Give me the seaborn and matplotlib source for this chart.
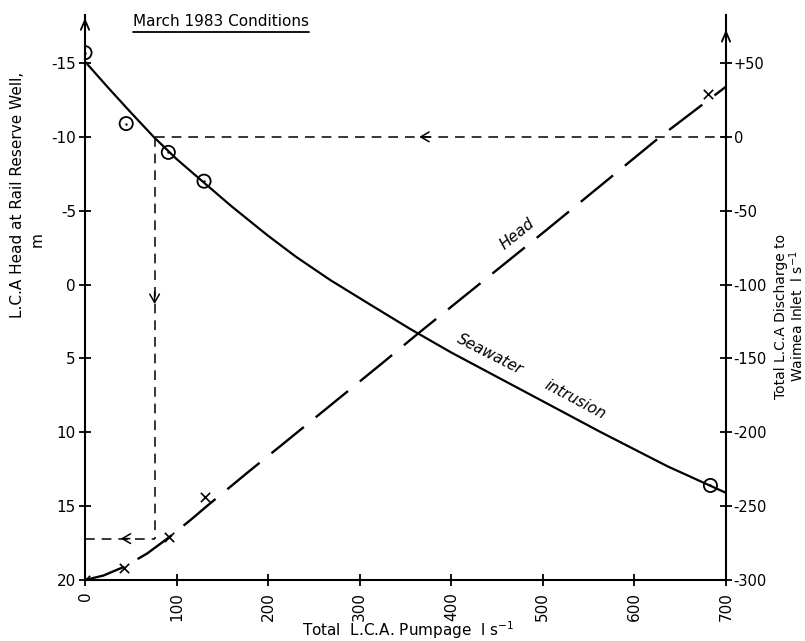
import matplotlib
matplotlib.use("Agg")
import matplotlib.pyplot as plt
import seaborn as sns
import pandas as pd
from matplotlib.lines import Line2D

# Seawater intrusion curve: pumpage (l/s) vs discharge to Waimea Inlet (l/s)
pump_sw = [0, 25, 50, 75, 100, 129, 160, 199, 230, 268, 310, 355, 400, 453,
           500, 562, 636, 700]
disch_sw = [51, 33.5, 16.5, 0, -15, -30.5, -47, -66.5, -81, -97, -113, -130,
            -146, -163.5, -179, -199.5, -223, -241]
# observed discharge points (circles)
pump_obs = [0, 45, 91, 130, 683]
disch_obs = [57, 9, -10.5, -30, -236]

# Head curve: pumpage vs head at Rail Reserve Well (m)
pump_head = [0, 20, 43, 68, 92, 115, 134, 180, 216, 325, 364, 504, 628, 700]
head_m = [20, 19.7, 19.1, 18.2, 17.1, 15.95, 14.95, 12.6, 10.8, 5.3, 3.3,
          -3.7, -10.0, -13.4]
# observed head points (crosses)
pump_hx = [0, 43, 92, 131, 680]
head_hx = [20, 19.2, 17.1, 14.4, -12.9]

# reading off the graph for zero discharge
q_zero = 76
head_zero = 17.2

x_ticks = [0, 100, 200, 300, 400, 500, 600, 700]
left_ticks = [-15, -10, -5, 0, 5, 10, 15, 20]
right_ticks = [50, 0, -50, -100, -150, -200, -250, -300]
right_labels = ["+50", "0", "-50", "-100", "-150", "-200", "-250", "-300"]

sns.set_style("ticks")
plt.rcParams["font.family"] = ["DejaVu Sans"]
plt.rcParams["lines.scale_dashes"] = False
plt.rcParams["axes.unicode_minus"] = False
plt.rcParams["text.color"] = "black"
plt.rcParams["xtick.color"] = "black"
plt.rcParams["ytick.color"] = "black"
plt.rcParams["axes.edgecolor"] = "black"

fig = plt.figure(figsize=(8.05, 6.41), dpi=100)
ax = fig.add_axes([85 / 805, 61 / 641, 641 / 805, 565 / 641])
ax2 = ax.twinx()

sw = pd.DataFrame({"pump": pump_sw, "disch": disch_sw})
obs = pd.DataFrame({"pump": pump_obs, "disch": disch_obs})
hd = pd.DataFrame({"pump": pump_head, "head": head_m})
hx = pd.DataFrame({"pump": pump_hx, "head": head_hx})

# curves
sns.lineplot(data=sw, x="pump", y="disch", ax=ax2, color="black", lw=1.6)
sns.scatterplot(data=obs, x="pump", y="disch", ax=ax2, marker="o", s=90,
                facecolor="none", edgecolor="black", linewidth=1.3, zorder=5)
sns.scatterplot(data=obs, x="pump", y="disch", ax=ax2, marker="o", s=3,
                color="black", linewidth=0, zorder=5)

sns.lineplot(data=hd, x="pump", y="head", ax=ax, color="black", lw=1.7,
             linestyle=(0, (30, 11)))
sns.scatterplot(data=hx, x="pump", y="head", ax=ax, marker="x", s=45,
                color="black", linewidth=1.2, zorder=5)

# construction lines
dash = (0, (7, 5))
ax2.plot([q_zero, 700], [0, 0], color="black", lw=1.1, linestyle=dash)
ax.plot([q_zero, q_zero], [-10, head_zero], color="black", lw=1.1, linestyle=dash)
ax.plot([0, q_zero], [head_zero, head_zero], color="black", lw=1.1, linestyle=dash)
arr = dict(arrowstyle="->,head_length=0.6,head_width=0.35", lw=1.1, color="black")
ax2.annotate("", xy=(362, 0), xytext=(380, 0), arrowprops=arr)
ax.annotate("", xy=(q_zero, 1.5), xytext=(q_zero, 0.3), arrowprops=arr)
ax.annotate("", xy=(36, head_zero), xytext=(52, head_zero), arrowprops=arr)

# axes
ax.set_xlim(0, 700)
ax.set_ylim(20, -18.25)
ax2.set_ylim(-300, 82.5)
ax.set_xticks(x_ticks)
ax.set_xticklabels([str(v) for v in x_ticks], rotation=90)
ax.set_yticks(left_ticks)
ax.set_yticklabels([str(v) for v in left_ticks])
ax2.set_yticks(right_ticks)
ax2.set_yticklabels(right_labels)
ax.set_xlabel("")
ax.set_ylabel("")
ax2.set_ylabel("")

for a in (ax, ax2):
    a.spines["top"].set_visible(False)
    for s in a.spines.values():
        s.set_linewidth(1.5)
ax.spines["right"].set_visible(False)
ax2.spines["left"].set_visible(False)
ax2.spines["bottom"].set_visible(False)
ax.tick_params(axis="both", direction="inout", length=9, width=1.3,
               labelsize=11, pad=2)
ax.tick_params(axis="x", pad=4)
ax2.tick_params(axis="y", direction="inout", length=9, width=1.3,
                labelsize=10.5, pad=1)

# arrows at top of vertical axes
tip = dict(arrowstyle="->,head_length=0.7,head_width=0.3", lw=1.3, color="black")
ax.annotate("", xy=(0, 1.0), xytext=(0, 0.96), xycoords="axes fraction",
            arrowprops=tip, annotation_clip=False)
ax.annotate("", xy=(1, 0.979), xytext=(1, 0.94), xycoords="axes fraction",
            arrowprops=tip, annotation_clip=False)

# curve labels
ax.text(472, -3.4, "Head", rotation=39, rotation_mode="anchor", ha="center",
        va="center", fontsize=11, style="italic")
ax.text(442, 4.7, "Seawater", rotation=-27, rotation_mode="anchor", ha="center",
        va="center", fontsize=11, style="italic")
ax.text(535, 7.8, "intrusion", rotation=-28, rotation_mode="anchor", ha="center",
        va="center", fontsize=11, style="italic")

# axis titles
fig.text(18 / 805, 1 - 195 / 641, "L.C.A Head at Rail Reserve Well,", rotation=90,
         ha="center", va="center", fontsize=11)
fig.text(37 / 805, 1 - 240 / 641, "m", rotation=90, ha="center", va="center",
         fontsize=11)
fig.text(790 / 805, 1 - 316 / 641,
         "Total L.C.A Discharge to\n" + r"Waimea Inlet  l s$^{-1}$",
         rotation=90, ha="center", va="center", multialignment="center",
         fontsize=10, linespacing=1.0)
fig.text(408 / 805, 1 - 630 / 641, r"Total  L.C.A. Pumpage  l s$^{-1}$",
         ha="center", va="center", fontsize=11)

title = fig.text(133 / 805, 1 - 21 / 641, "March 1983 Conditions", ha="left",
                 va="center", fontsize=11)
fig.canvas.draw()
bb = title.get_window_extent()
fig.add_artist(Line2D([bb.x0 / 805, bb.x1 / 805], [1 - 32 / 641, 1 - 32 / 641],
                      color="black", lw=1.3, transform=fig.transFigure))

fig.savefig("out.png", dpi=100)
